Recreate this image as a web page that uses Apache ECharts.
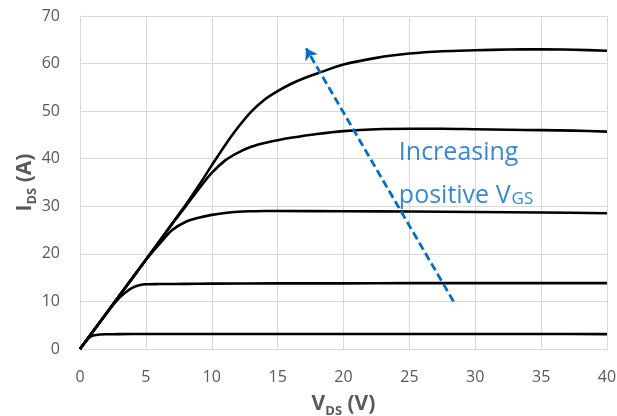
<!DOCTYPE html>
<html><head><meta charset="utf-8">
<script src="https://cdn.jsdelivr.net/npm/echarts@6/dist/echarts.min.js"></script>
<style>html,body{margin:0;padding:0;background:#fff}#c{width:617px;height:416px}</style>
</head><body><div id="c"></div>
<script>
// Drain-source voltage (V) and drain current (A) for each V_GS curve
const vds1 = [0, 0.5, 0.8, 1, 1.5, 2, 3, 5, 10, 15, 20, 25, 30, 35, 40];
const ids1 = [0, 1.8, 2.6, 2.85, 3.05, 3.1, 3.12, 3.15, 3.15, 3.15, 3.15, 3.15, 3.15, 3.15, 3.12];

const vds2 = [0, 1, 2, 2.5, 3, 3.5, 4, 4.5, 5, 6, 8, 10, 15, 20, 25, 30, 35, 40];
const ids2 = [0, 3.7, 7.4, 9.2, 10.8, 12.0, 12.9, 13.4, 13.6, 13.65, 13.7, 13.75, 13.8, 13.8, 13.85, 13.85, 13.85, 13.85];

const vds3 = [0, 2, 4, 5, 5.5, 6, 7, 8, 9, 10, 11, 12, 13, 14, 15, 20, 25, 30, 35, 40];
const ids3 = [0, 7.5, 15.0, 18.7, 20.4, 22.0, 25.0, 26.7, 27.6, 28.2, 28.6, 28.85, 28.95, 29.0, 29.0, 28.95, 28.9, 28.8, 28.7, 28.55];

const vds4 = [0, 4, 6, 7, 8, 9, 10, 11, 12, 13, 14, 15, 16, 18, 20, 22.5, 25, 27.5, 30, 32.5, 35, 37.5, 40];
const ids4 = [0, 15.0, 22.5, 26.3, 29.9, 33.6, 37.0, 39.6, 41.3, 42.5, 43.3, 43.9, 44.4, 45.2, 45.8, 46.2, 46.3, 46.3, 46.2, 46.1, 46.0, 45.9, 45.7];

const vds5 = [0, 4, 8, 9, 10, 11, 12, 13, 14, 15, 16, 17, 18, 20, 22.5, 25, 27.5, 30, 32.5, 35, 37.5, 40];
const ids5 = [0, 15.0, 30.2, 34.3, 38.6, 42.8, 46.6, 49.9, 52.4, 54.2, 55.7, 56.9, 57.9, 59.8, 61.2, 62.1, 62.6, 62.8, 62.95, 63.0, 62.9, 62.7];

// Annotation arrow (tail -> head) in data units
const arrowVds = [28.35, 17.16];
const arrowIds = [10.0, 63.2];

// Annotation text anchor (data units)
const noteVds = 24.2;
const noteIds = 47.7;

const xTicks = { min: 0, max: 40, interval: 5 };
const yTicks = { min: 0, max: 70, interval: 10 };

const FONT = '"Open Sans", "Liberation Sans", sans-serif';
const GRAY = '#595959';
const BLUE = '#0a6cc0';

function pairs(xs, ys) { return xs.map((x, i) => [x, ys[i]]); }

const curves = [[vds1, ids1], [vds2, ids2], [vds3, ids3], [vds4, ids4], [vds5, ids5]];

const series = curves.map(([xs, ys]) => ({
  type: 'line',
  data: pairs(xs, ys),
  smooth: 0.3,
  showSymbol: false,
  symbol: 'none',
  lineStyle: { color: '#000', width: 2.6 },
  silent: true,
  animation: false,
  z: 3
}));

series.push({
  type: 'lines',
  coordinateSystem: 'cartesian2d',
  symbol: ['none', 'arrow'],
  symbolSize: [0, 11],
  lineStyle: { color: BLUE, width: 2.8, type: [8, 4], opacity: 1 },
  data: [{ coords: [[arrowVds[0], arrowIds[0]], [arrowVds[1], arrowIds[1]]] }],
  silent: true,
  animation: false,
  z: 4
});

series.push({
  type: 'scatter',
  data: [[noteVds, noteIds]],
  symbolSize: 0,
  silent: true,
  animation: false,
  label: {
    show: true,
    position: [0, 0],
    align: 'left',
    verticalAlign: 'top',
    formatter: '{t|Increasing}\n{t|positive V}{s|GS}',
    rich: {
      t: { fontFamily: FONT, fontSize: 25, color: BLUE, lineHeight: 43, verticalAlign: 'bottom' },
      s: { fontFamily: FONT, fontSize: 17, color: BLUE, lineHeight: 43, verticalAlign: 'bottom', padding: [0, 0, 0, 1] }
    }
  },
  z: 5
});

const nameRich = {
  b: { fontFamily: FONT, fontSize: 21, fontWeight: 'bold', color: GRAY, lineHeight: 26, verticalAlign: 'bottom' },
  s: { fontFamily: FONT, fontSize: 13, fontWeight: 'bold', color: GRAY, lineHeight: 26, verticalAlign: 'bottom', padding: [0, 0, -3, 0] }
};

const chart = echarts.init(document.getElementById('c'), null, { renderer: 'canvas' });
chart.setOption({
  animation: false,
  backgroundColor: '#fff',
  grid: { left: 80, right: 10, top: 16, bottom: 67, containLabel: false, outerBoundsMode: 'none' },
  xAxis: {
    type: 'value',
    min: xTicks.min, max: xTicks.max, interval: xTicks.interval,
    name: '{b|V}{s|DS}{b| (V)}',
    nameLocation: 'middle',
    nameGap: 40,
    nameMoveOverlap: false,
    nameTextStyle: { rich: nameRich },
    axisLine: { show: true, lineStyle: { color: '#d9d9d9', width: 1 } },
    axisTick: { show: false },
    axisLabel: { color: GRAY, fontFamily: FONT, fontSize: 16, margin: 20 },
    splitLine: { show: true, lineStyle: { color: '#d9d9d9', width: 1 } }
  },
  yAxis: {
    type: 'value',
    min: yTicks.min, max: yTicks.max, interval: yTicks.interval,
    name: '{b|I}{s|DS}{b| (A)}',
    nameLocation: 'middle',
    nameGap: 44,
    nameMoveOverlap: false,
    nameRotate: 90,
    nameTextStyle: { rich: nameRich },
    axisLine: { show: true, lineStyle: { color: '#d9d9d9', width: 1 } },
    axisTick: { show: false },
    axisLabel: { color: GRAY, fontFamily: FONT, fontSize: 16, margin: 20 },
    splitLine: { show: true, lineStyle: { color: '#d9d9d9', width: 1 } }
  },
  series: series
});
</script>
</body></html>
